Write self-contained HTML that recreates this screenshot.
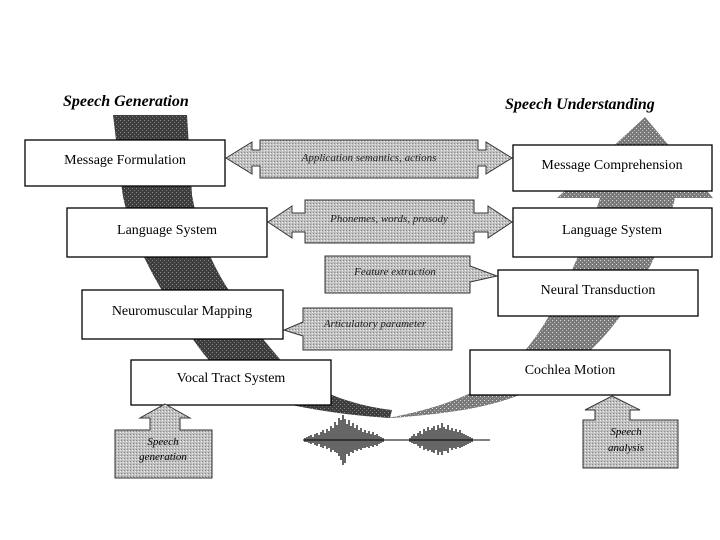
<!DOCTYPE html>
<html><head><meta charset="utf-8"><style>
body{margin:0;background:#fff}
svg{display:block}
text{font-family:"Liberation Serif",serif}
</style></head><body>
<svg width="720" height="540" viewBox="0 0 720 540" xmlns="http://www.w3.org/2000/svg">
<defs>
<pattern id="dk" width="4" height="4" patternUnits="userSpaceOnUse"><rect width="4" height="4" fill="#3e3e3e"/><rect x="0" y="0" width="1" height="1" fill="#888"/><rect x="2" y="2" width="1" height="1" fill="#777"/></pattern>
<pattern id="md" width="4" height="4" patternUnits="userSpaceOnUse"><rect width="4" height="4" fill="#7a7a7a"/><rect x="0" y="0" width="1" height="1" fill="#ddd"/><rect x="2" y="2" width="1" height="1" fill="#bbb"/></pattern>
<pattern id="lt" width="3" height="3" patternUnits="userSpaceOnUse"><rect width="3" height="3" fill="#c0c0c0"/><rect x="0" y="0" width="1" height="1" fill="#f0f0f0"/><rect x="1" y="2" width="1" height="1" fill="#888"/></pattern>
</defs>
<text x="63" y="106" font-size="16" font-weight="bold" font-style="italic">Speech Generation</text>
<text x="505" y="109" font-size="16" font-weight="bold" font-style="italic">Speech Understanding</text>
<path d="M113,115 L187,115 L192,195 C200,240 215,270 232,295 C250,325 268,345 285,365 C310,390 350,405 392,410 L390,418 C330,414 280,405 240,390 C215,370 200,350 190,335 C170,305 155,280 143,255 C130,225 124,205 122,190 Z" fill="url(#dk)"/>
<path d="M388,418 C430,410 470,398 500,375 C530,350 545,325 560,295 C575,265 590,230 600,198 L557,198 L645,117 L713,198 L675,198 C665,240 645,280 625,310 C600,345 570,375 520,395 C480,410 440,414 392,418 Z" fill="url(#md)"/>
<path d="M226,158 L252,142 L252,150 L260,150 L260,140 L478,140 L478,150 L486,150 L486,142 L512,158 L486,174 L486,166 L478,166 L478,178 L260,178 L260,166 L252,166 L252,174 Z" fill="url(#lt)" stroke="#333"/>
<path d="M268,222 L292,206 L292,213 L305,213 L305,200 L474,200 L474,213 L488,213 L488,206 L512,222 L488,238 L488,232 L474,232 L474,243 L305,243 L305,232 L292,232 L292,238 Z" fill="url(#lt)" stroke="#333"/>
<path d="M325,256 L470,256 L470,266 L497,276 L470,282 L470,293 L325,293 Z" fill="url(#lt)" stroke="#333"/>
<path d="M303,308 L452,308 L452,350 L303,350 L303,336 L284,330 L303,322 Z" fill="url(#lt)" stroke="#333"/>
<g fill="#fff" stroke="#000" stroke-width="1.3">
<rect x="25" y="140" width="200" height="46"/>
<rect x="513" y="145" width="199" height="46"/>
<rect x="67" y="208" width="200" height="49"/>
<rect x="513" y="208" width="199" height="49"/>
<rect x="498" y="270" width="200" height="46"/>
<rect x="82" y="290" width="201" height="49"/>
<rect x="131" y="360" width="200" height="45"/>
<rect x="470" y="350" width="200" height="45"/>
</g>
<g font-size="14" text-anchor="middle">
<text x="125" y="164">Message Formulation</text>
<text x="612" y="169">Message Comprehension</text>
<text x="167" y="234">Language System</text>
<text x="612" y="234">Language System</text>
<text x="598" y="294">Neural Transduction</text>
<text x="182" y="315">Neuromuscular Mapping</text>
<text x="231" y="382">Vocal Tract System</text>
<text x="570" y="374">Cochlea Motion</text>
</g>
<g font-size="11" font-style="italic" text-anchor="middle" fill="#222">
<text x="369" y="161">Application semantics, actions</text>
<text x="389" y="222">Phonemes, words, prosody</text>
<text x="395" y="275">Feature extraction</text>
<text x="375" y="327">Articulatory parameter</text>
</g>
<path d="M165,404 L190,418 L180,418 L180,430 L212,430 L212,478 L115,478 L115,430 L150,430 L150,418 L140,418 Z" fill="url(#lt)" stroke="#333"/>
<text x="163" y="445" font-size="11" font-style="italic" text-anchor="middle">Speech</text>
<text x="163" y="460" font-size="11" font-style="italic" text-anchor="middle">generation</text>
<path d="M612,396 L640,410 L630,410 L630,420 L678,420 L678,468 L583,468 L583,420 L595,420 L595,410 L585,410 Z" fill="url(#lt)" stroke="#333"/>
<text x="626" y="435" font-size="11" font-style="italic" text-anchor="middle">Speech</text>
<text x="626" y="451" font-size="11" font-style="italic" text-anchor="middle">analysis</text>
<line x1="303" y1="440" x2="490" y2="440" stroke="#000"/>
<g stroke="#000" stroke-width="1.2">
<path d="M305,438v4M307,437v5M309,436v7M311,435v9M313,437v6M315,434v11M317,433v13M319,435v9M321,432v15M323,430v18M325,433v13M327,429v20M329,431v17M331,426v26M333,428v22M335,422v30M337,425v28M339,418v38M341,420v40M343,415v50M345,419v44M347,424v30M349,420v36M351,426v26M353,423v30M355,428v22M357,425v26M359,430v19M361,428v22M363,432v16M365,430v18M367,433v14M369,431v17M371,434v12M373,432v15M375,435v10M377,434v12M379,436v8M381,437v6M383,438v4"/>
<path d="M410,438v4M412,436v7M414,434v10M416,436v8M418,433v13M420,431v17M422,434v12M424,429v21M426,431v18M428,427v24M430,430v20M432,428v24M434,426v27M436,430v20M438,425v30M440,428v24M442,423v32M444,427v24M446,429v22M448,425v28M450,430v18M452,428v22M454,431v17M456,429v20M458,432v15M460,430v18M462,433v14M464,434v12M466,435v10M468,436v8M470,437v6M472,438v4"/>
</g>
</svg>
</body></html>
